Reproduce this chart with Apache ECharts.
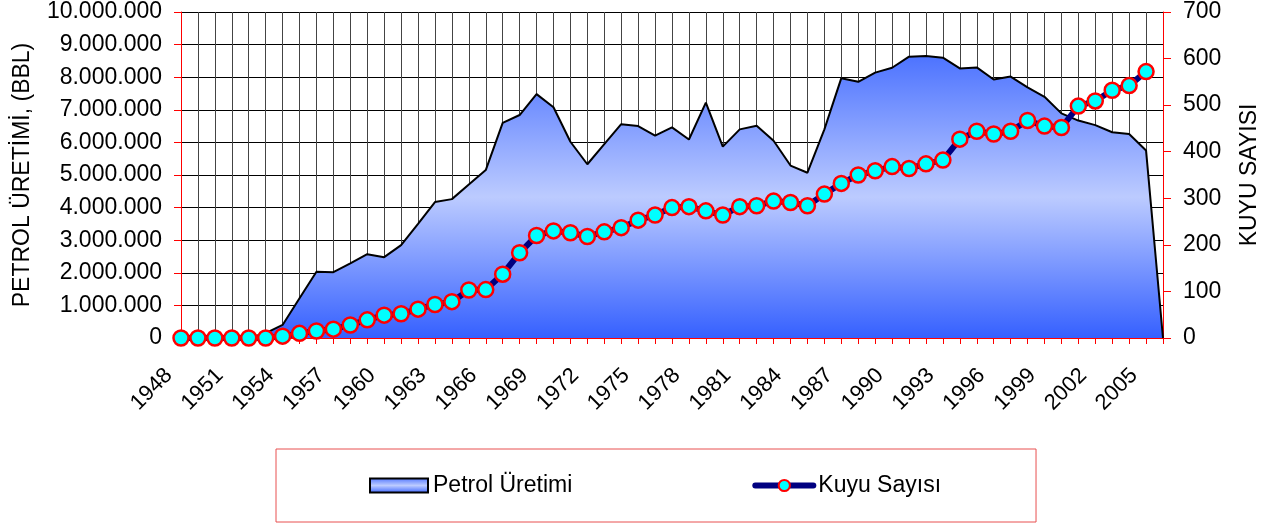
<!DOCTYPE html>
<html>
<head>
<meta charset="utf-8">
<script src="https://cdn.jsdelivr.net/npm/echarts@6/dist/echarts.min.js"></script>
<style>
  html, body { margin: 0; padding: 0; background: #fff; }
  #chart { width: 1288px; height: 526px; }
</style>
</head>
<body>
<div id="chart"></div>
<script>
const years = [];
for (let y = 1948; y <= 2006; y++) years.push(String(y));

// petrol production (bbl), 1948-2006
const petrolUretimi = [
  0, 0, 0, 0, 0, 150000, 400000, 1220000, 2030000, 2020000,
  2290000, 2570000, 2480000, 2850000, 3500000, 4170000, 4260000, 4710000, 5150000, 6600000,
  6840000, 7480000, 7080000, 6020000, 5330000, 5950000, 6560000, 6500000, 6210000, 6460000,
  6090000, 7220000, 5870000, 6400000, 6510000, 6050000, 5290000, 5070000, 6400000, 7970000,
  7860000, 8140000, 8290000, 8630000, 8650000, 8600000, 8270000, 8300000, 7930000, 8020000,
  7690000, 7400000, 6890000, 6670000, 6530000, 6310000, 6260000, 5750000, 0
];

// number of wells, 1948-2005
const kuyuSayisi = [
  0, 0, 0, 0, 0, 0, 4, 10, 15, 19,
  28, 39, 49, 52, 62, 72, 78, 103, 104, 137,
  183, 220, 230, 226, 218, 228, 237, 253, 264, 280,
  282, 273, 264, 282, 284, 294, 291, 284, 309, 332,
  350, 359, 368, 364, 374, 382, 427, 444, 438, 444,
  467, 455, 452, 498, 509, 532, 542, 572, null
];

const leftTicks = [0, 10000000, 1000000];
const rightTicks = [0, 700, 100];

const fontFam = '"Liberation Sans", Arial, sans-serif';

function areaGradient() {
  return new echarts.graphic.LinearGradient(0, 0, 0, 1, [
    { offset: 0, color: '#4d73ff' },
    { offset: 0.5, color: '#bccbff' },
    { offset: 1, color: '#3560ff' }
  ]);
}

function dotted(v) {
  return String(v).replace(/\B(?=(\d{3})+(?!\d))/g, '.');
}

const chart = echarts.init(document.getElementById('chart'));
chart.setOption({
  animation: false,
  textStyle: { fontFamily: fontFam },
  grid: { left: 181, right: 125, top: 12, bottom: 188 },
  legend: {
    left: 276,
    top: 449,
    padding: [25, 95, 25, 93],
    itemGap: 180,
    itemWidth: 58,
    itemHeight: 14,
    borderColor: '#e85050',
    borderWidth: 1,
    textStyle: { fontSize: 23, color: '#000', fontFamily: fontFam },
    data: [
      { name: 'Petrol Üretimi', icon: 'rect',
        itemStyle: { color: areaGradient(), borderColor: '#000', borderWidth: 2 } },
      { name: 'Kuyu Sayısı',
        lineStyle: { color: '#000080', width: 6, cap: 'round' } }
    ]
  },
  xAxis: {
    type: 'category',
    data: years,
    boundaryGap: false,
    axisLine: { lineStyle: { color: '#ff0000', width: 1 } },
    axisTick: { show: true, interval: 0, length: 6, lineStyle: { color: '#ff0000' } },
    axisLabel: { interval: 2, rotate: 45, fontSize: 22, color: '#000', margin: 22, padding: [0, 17, 0, 0] },
    splitLine: { show: true, interval: 0, lineStyle: { color: '#444', width: 1 } }
  },
  yAxis: [
    {
      type: 'value',
      min: leftTicks[0], max: leftTicks[1], interval: leftTicks[2],
      name: 'PETROL ÜRETİMİ, (BBL)',
      nameLocation: 'middle',
      nameGap: 147,
      nameTextStyle: { fontSize: 23, color: '#000' },
      axisLine: { show: true, lineStyle: { color: '#ff0000' } },
      axisTick: { show: true, length: 7, lineStyle: { color: '#ff0000' } },
      axisLabel: { fontSize: 23, color: '#000', margin: 19, formatter: dotted },
      splitLine: { lineStyle: { color: '#000', width: 1 } }
    },
    {
      type: 'value',
      min: rightTicks[0], max: rightTicks[1], interval: rightTicks[2],
      name: 'KUYU SAYISI',
      nameLocation: 'middle',
      nameGap: 75,
      nameTextStyle: { fontSize: 23, color: '#000' },
      axisLine: { show: true, lineStyle: { color: '#ff0000' } },
      axisTick: { show: true, length: 8, lineStyle: { color: '#ff0000' } },
      axisLabel: { fontSize: 23, color: '#000', margin: 20 },
      splitLine: { show: false }
    }
  ],
  series: [
    {
      name: 'Petrol Üretimi',
      type: 'line',
      data: petrolUretimi,
      symbol: 'none',
      lineStyle: { color: '#000', width: 2 },
      itemStyle: { color: '#8fa8ff' },
      areaStyle: { color: areaGradient(), opacity: 1 },
      z: 2
    },
    {
      name: 'Kuyu Sayısı',
      type: 'line',
      yAxisIndex: 1,
      data: kuyuSayisi,
      symbol: 'circle',
      symbolSize: 15,
      showAllSymbol: true,
      lineStyle: { color: '#000080', width: 6 },
      itemStyle: { color: '#00ffff', borderColor: '#ff0000', borderWidth: 2.5 },
      z: 3
    }
  ]
});
</script>
</body>
</html>
